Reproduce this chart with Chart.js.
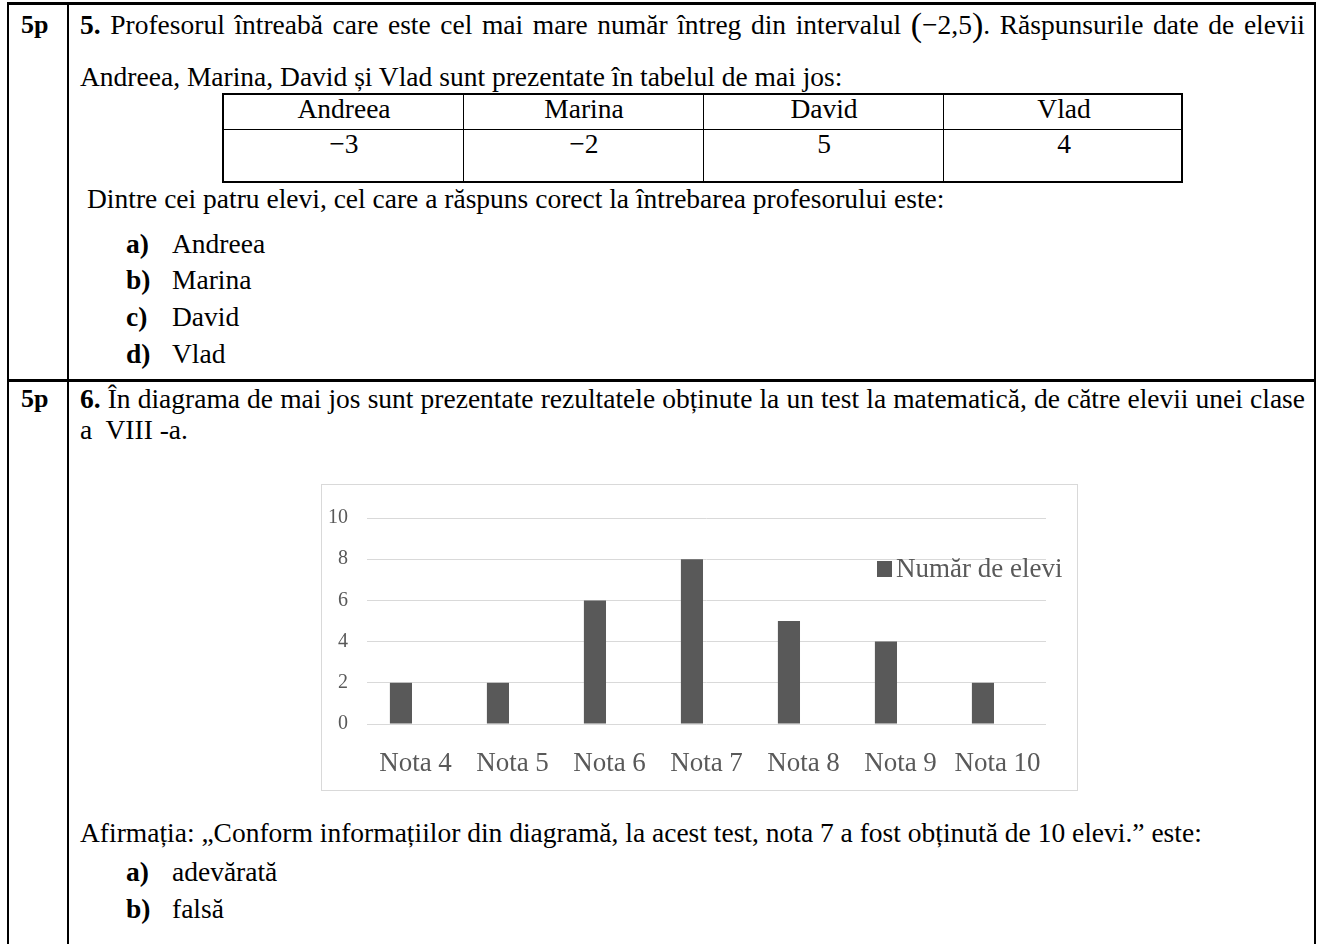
<!DOCTYPE html>
<html lang="ro">
<head>
<meta charset="utf-8">
<title>Subiectul I - itemii 5 și 6</title>
<script src="https://cdn.jsdelivr.net/npm/chart.js@4.4.1/dist/chart.umd.min.js"></script>
<style>
  html, body { margin: 0; padding: 0; background: #fff; }
  body {
    width: 1321px; height: 944px; position: relative; overflow: hidden;
    font-family: "Liberation Serif", "Times New Roman", serif;
    font-size: 27.5px; color: #000;
  }
  /* line-height 30px: linia de bază cade la top + 24px */
  .ln { position: absolute; white-space: nowrap; line-height: 30px; }
  .pct { position: absolute; left: 21px; font-weight: bold; font-size: 26px; line-height: 30px; }
  .rule { position: absolute; background: #000; }
  .opt b { display: inline-block; width: 46px; }
  .paren { font-size: 34px; line-height: 10px; vertical-align: -2px; }
  .tabel { position: absolute; left: 222px; top: 93px; width: 957px; height: 86px; border: 2px solid #000; }
  .tabel .v { position: absolute; top: 0; width: 1.3px; height: 86px; background: #000; }
  .tabel .h { position: absolute; left: 0; top: 34px; width: 957px; height: 1.3px; background: #000; }
  .tabel .c { position: absolute; width: 240px; text-align: center; line-height: 30px; white-space: nowrap; }
  .cutie {
    position: absolute; left: 321px; top: 484px; width: 755px; height: 305px;
    border: 1px solid #d9d9d9;
  }
  .legenda { position: absolute; left: 877px; top: 553px; font-size: 27px; line-height: 30px; color: #595959; white-space: nowrap; }
  .legenda i { position: absolute; left: 0; top: 8px; width: 15px; height: 16px; background: #595959; }
  .legenda span { position: absolute; left: 19px; top: 0; }
</style>
</head>
<body>

<!-- chenarul tabelului de itemi -->
<div class="rule" style="left:7px; top:2px; width:1309px; height:3px;"></div>
<div class="rule" style="left:7px; top:2px; width:2px; height:942px;"></div>
<div class="rule" style="left:1314px; top:2px; width:2px; height:942px;"></div>
<div class="rule" style="left:67px; top:2px; width:2px; height:942px;"></div>
<div class="rule" style="left:7px; top:379px; width:1309px; height:3px;"></div>

<!-- itemul 5 -->
<div class="pct" style="top:10px;">5p</div>
<div class="ln just" style="left:80px; top:10px;"><b>5.</b> Profesorul întreabă care este cel mai mare număr întreg din intervalul <span class="paren">(</span>−2,5<span class="paren">)</span>. Răspunsurile date de elevii</div>
<div class="ln" style="left:80px; top:62px;">Andreea, Marina, David și Vlad sunt prezentate în tabelul de mai jos:</div>

<div class="tabel">
  <div class="v" style="left:239px;"></div>
  <div class="v" style="left:479px;"></div>
  <div class="v" style="left:719px;"></div>
  <div class="h"></div>
  <div class="c" style="left:0px; top:-1px;">Andreea</div>
  <div class="c" style="left:240px; top:-1px;">Marina</div>
  <div class="c" style="left:480px; top:-1px;">David</div>
  <div class="c" style="left:720px; top:-1px;">Vlad</div>
  <div class="c" style="left:0px; top:34px;">−3</div>
  <div class="c" style="left:240px; top:34px;">−2</div>
  <div class="c" style="left:480px; top:34px;">5</div>
  <div class="c" style="left:720px; top:34px;">4</div>
</div>

<div class="ln" style="left:87px; top:184px;">Dintre cei patru elevi, cel care a răspuns corect la întrebarea profesorului este:</div>
<div class="ln opt" style="left:126px; top:229px;"><b>a)</b>Andreea</div>
<div class="ln opt" style="left:126px; top:265px;"><b>b)</b>Marina</div>
<div class="ln opt" style="left:126px; top:302px;"><b>c)</b>David</div>
<div class="ln opt" style="left:126px; top:339px;"><b>d)</b>Vlad</div>

<!-- itemul 6 -->
<div class="pct" style="top:384px;">5p</div>
<div class="ln just" style="left:80px; top:384px;"><b>6.</b> În diagrama de mai jos sunt prezentate rezultatele obținute la un test la matematică, de către elevii unei clase</div>
<div class="ln" style="left:80px; top:415px;">a&nbsp; VIII -a.</div>

<div class="cutie"><canvas id="diagrama"></canvas></div>
<div class="legenda"><i></i><span>Număr de elevi</span></div>

<div class="ln" style="left:80px; top:818px;">Afirmația: „Conform informațiilor din diagramă, la acest test, nota 7 a fost obținută de 10 elevi.” este:</div>
<div class="ln opt" style="left:126px; top:857px;"><b>a)</b>adevărată</div>
<div class="ln opt" style="left:126px; top:894px;"><b>b)</b>falsă</div>

<script>
// datele din diagramă
const note = ['Nota 4', 'Nota 5', 'Nota 6', 'Nota 7', 'Nota 8', 'Nota 9', 'Nota 10'];
const numarElevi = [2, 2, 6, 8, 5, 4, 2];
// a doua serie din graficul original este goală (de aceea coloanele stau în stânga notei)
const serieGoala = [null, null, null, null, null, null, null];
const valoriAxa = [0, 2, 4, 6, 8, 10];

// rândurile aliniate stânga-dreapta (80px -> 1305px)
document.querySelectorAll('.just').forEach(function(el) {
    var latime = 1225;
    var natural = el.getBoundingClientRect().width;
    var spatii = (el.textContent.match(/ /g) || []).length;
    if (spatii > 0) {
        el.style.wordSpacing = ((latime - natural) / spatii) + 'px';
    }
});

const gri = '#595959';
Chart.defaults.font.family = '"Liberation Serif", "Times New Roman", serif';
Chart.defaults.color = gri;

var ctx = document.getElementById('diagrama').getContext('2d');
var diagrama = new Chart(ctx, {
    type: 'bar',
    data: {
        labels: note,
        datasets: [
            {
                label: 'Număr de elevi',
                data: numarElevi,
                backgroundColor: gri,
                categoryPercentage: 0.6,
                barPercentage: 0.76
            },
            {
                label: '',
                data: serieGoala,
                backgroundColor: 'rgba(0,0,0,0)',
                categoryPercentage: 0.6,
                barPercentage: 0.76
            }
        ]
    },
    options: {
        responsive: true,
        maintainAspectRatio: false,
        animation: false,
        events: [],
        layout: {
            padding: { top: 33, right: 31, bottom: 0, left: 0 }
        },
        plugins: {
            legend: { display: false },
            tooltip: { enabled: false }
        },
        scales: {
            x: {
                grid: { display: false },
                border: { display: false },
                ticks: { font: { size: 27 }, padding: 16, maxRotation: 0, autoSkip: false },
                afterFit: function(scale) { scale.height = 66; }
            },
            y: {
                min: valoriAxa[0],
                max: valoriAxa[valoriAxa.length - 1],
                grid: { color: '#d9d9d9', lineWidth: 1, drawTicks: false },
                border: { display: false },
                ticks: { font: { size: 20 }, padding: 19 },
                afterBuildTicks: function(scale) {
                    scale.ticks = valoriAxa.map(function(v) { return { value: v }; });
                },
                afterFit: function(scale) { scale.width = 45; }
            }
        }
    }
});
</script>
</body>
</html>
